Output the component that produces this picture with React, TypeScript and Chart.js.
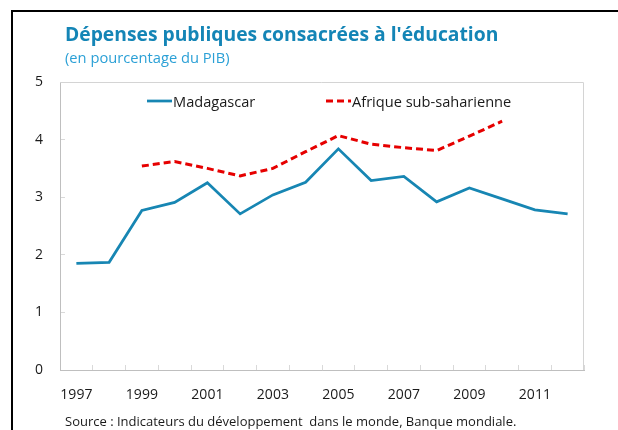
import React, { useEffect, useRef } from "react";
import { Chart, registerables } from "chart.js";

Chart.register(...registerables);

const years = ["1997", "1998", "1999", "2000", "2001", "2002", "2003", "2004", "2005", "2006", "2007", "2008", "2009", "2010", "2011", "2012"];
const madagascar = [1.85, 1.87, 2.77, 2.91, 3.25, 2.71, 3.04, 3.26, 3.84, 3.29, 3.36, 2.92, 3.16, 2.97, 2.78, 2.71];
const afrique = [null, null, 3.54, 3.62, 3.5, 3.37, 3.5, 3.79, 4.07, 3.92, 3.86, 3.81, 4.06, 4.32, null, null];
const yMin = 0;
const yMax = 5;
const yStep = 1;

const titleText = "Dépenses publiques consacrées à l'éducation";
const subtitleText = "(en pourcentage du PIB)";
const sourceText = "Source : Indicateurs du développement  dans le monde, Banque mondiale.";

const BLUE = "#1786b3";
const RED = "#e60000";
const FONT = "'Open Sans', 'DejaVu Sans', sans-serif";

const framePlugin = {
  id: "frame",
  beforeDatasetsDraw(chart: any) {
    const { ctx, chartArea } = chart;
    const { left, top, right, bottom } = chartArea;
    ctx.save();
    ctx.strokeStyle = "#d4d4d4";
    ctx.lineWidth = 1;
    ctx.beginPath();
    ctx.moveTo(left, top + 0.5);
    ctx.lineTo(right - 0.5, top + 0.5);
    ctx.lineTo(right - 0.5, bottom);
    ctx.stroke();
    ctx.restore();
  },
};

const legendPlugin = {
  id: "innerLegend",
  afterDraw(chart: any) {
    const { ctx, chartArea } = chart;
    const offsets = [87, 266];
    const y = chartArea.top + 19;
    ctx.save();
    chart.data.datasets.forEach((ds: any, i: number) => {
      const x0 = chartArea.left + offsets[i];
      ctx.strokeStyle = ds.borderColor;
      ctx.lineWidth = ds.borderWidth;
      ctx.setLineDash(ds.borderDash || []);
      ctx.beginPath();
      ctx.moveTo(x0, y);
      ctx.lineTo(x0 + 25, y);
      ctx.stroke();
      ctx.setLineDash([]);
      ctx.fillStyle = "#1a1a1a";
      ctx.font = `14.6px ${FONT}`;
      ctx.textBaseline = "middle";
      ctx.textAlign = "left";
      ctx.fillText(ds.label, x0 + 26, y + 2);
    });
    ctx.restore();
  },
};

export default function App() {
  const canvasRef = useRef<HTMLCanvasElement | null>(null);

  useEffect(() => {
    if (!canvasRef.current) return;
    const chart = new Chart(canvasRef.current, {
      type: "line",
      data: {
        labels: years,
        datasets: [
          {
            label: "Madagascar",
            data: madagascar,
            borderColor: BLUE,
            backgroundColor: BLUE,
            borderWidth: 2.75,
            pointRadius: 0,
            tension: 0,
          },
          {
            label: "Afrique sub-saharienne",
            data: afrique as any,
            borderColor: RED,
            backgroundColor: RED,
            borderWidth: 3,
            borderDash: [7, 4],
            pointRadius: 0,
            tension: 0,
          },
        ],
      },
      options: {
        animation: false,
        responsive: false,
        maintainAspectRatio: false,
        layout: { padding: { left: 0, top: 82, right: 34, bottom: 20 } },
        plugins: {
          legend: { display: false },
          tooltip: { enabled: false },
          title: { display: false },
        },
        scales: {
          x: {
            type: "category",
            offset: true,
            grid: {
              offset: true,
              drawOnChartArea: false,
              drawTicks: true,
              tickLength: -5,
              color: "#d9d9d9",
            },
            border: { display: true, color: "#bfbfbf", width: 1 },
            ticks: {
              autoSkip: false,
              maxRotation: 0,
              padding: 22,
              color: "#1a1a1a",
              font: { family: FONT, size: 14 },
              callback: (_v: any, i: number) => (i % 2 === 0 ? years[i] : ""),
            },
            afterFit: (s: any) => {
              s.height = 40;
            },
          },
          y: {
            min: yMin,
            max: yMax,
            grid: {
              drawOnChartArea: false,
              drawTicks: true,
              tickLength: -5,
              color: "#d9d9d9",
            },
            border: { display: true, color: "#bfbfbf", width: 1 },
            ticks: {
              stepSize: yStep,
              padding: 22,
              color: "#1a1a1a",
              font: { family: FONT, size: 14 },
            },
            afterFit: (s: any) => {
              s.width = 60;
            },
          },
        },
      },
      plugins: [framePlugin, legendPlugin],
    });
    return () => chart.destroy();
  }, []);

  return (
    <div style={{ position: "fixed", left: 0, top: 0, width: 618, height: 430, overflow: "hidden", background: "#fff", fontFamily: FONT }}>
      <div
        style={{
          position: "absolute",
          left: 11,
          top: 10,
          width: 700,
          height: 500,
          borderLeft: "2px solid #000",
          borderTop: "2px solid #000",
        }}
      />
      <canvas ref={canvasRef} width={618} height={430} style={{ position: "absolute", left: 0, top: 0, width: 618, height: 430 }} />
      <div style={{ position: "absolute", left: 65, top: 21, fontSize: 19.3, fontWeight: 700, color: "#1485b6", whiteSpace: "nowrap", lineHeight: "26px" }}>
        {titleText}
      </div>
      <div style={{ position: "absolute", left: 65, top: 47, fontSize: 14.7, color: "#2ba0d6", whiteSpace: "nowrap", lineHeight: "20px" }}>
        {subtitleText}
      </div>
      <div style={{ position: "absolute", left: 65, top: 412, fontSize: 13, color: "#1a1a1a", whiteSpace: "pre", lineHeight: "18px" }}>
        {sourceText}
      </div>
    </div>
  );
}
